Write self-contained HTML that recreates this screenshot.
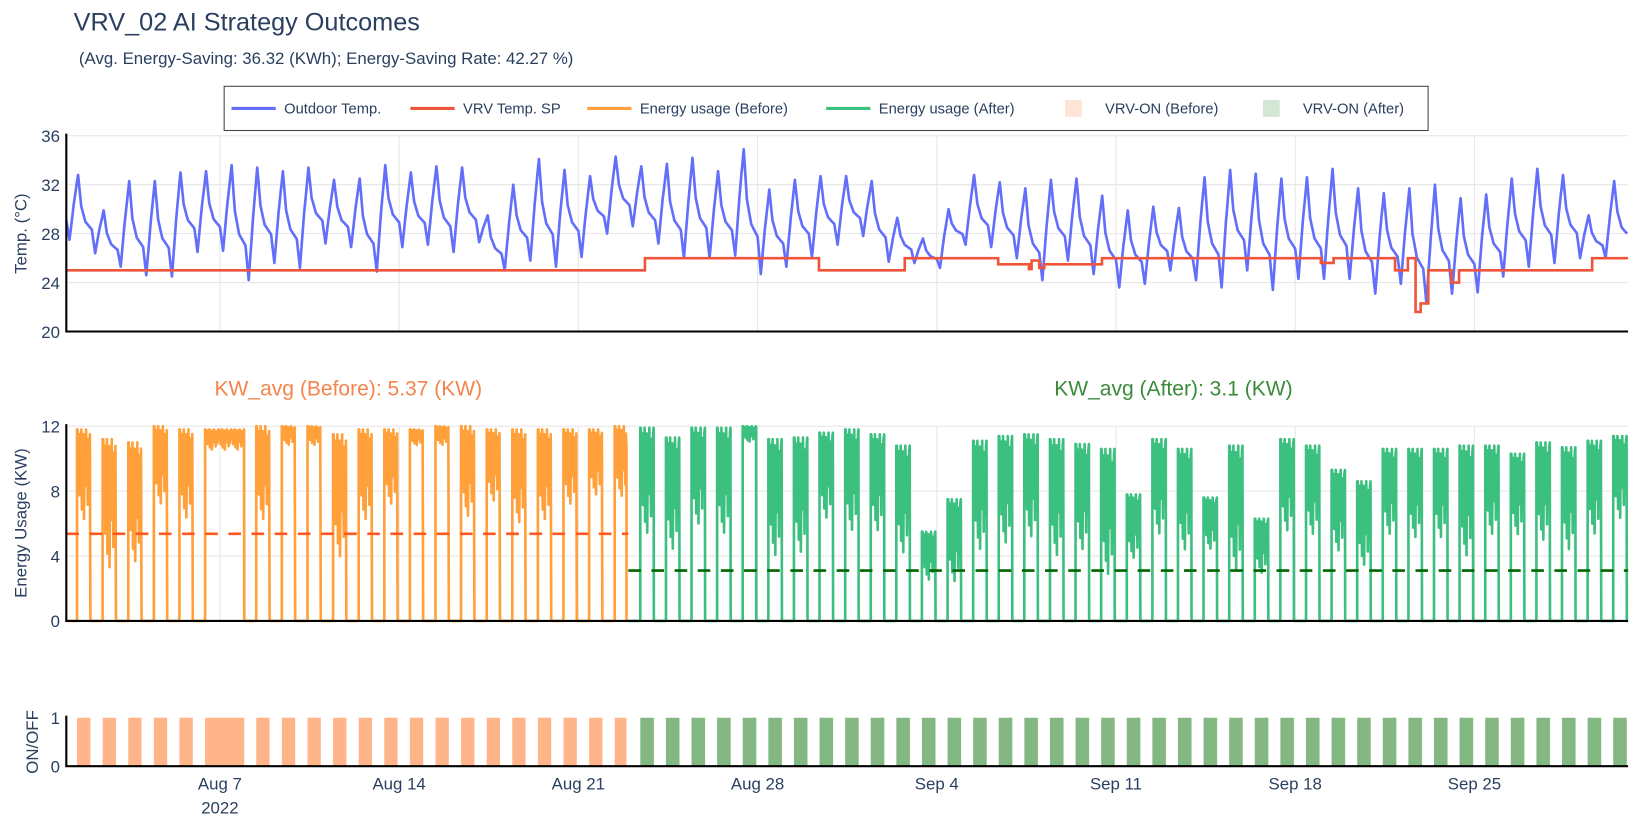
<!DOCTYPE html>
<html><head><meta charset="utf-8"><style>
body{margin:0;background:#fff;}
svg{display:block;font-family:"Liberation Sans",sans-serif;}
text{fill:#2a3f5f;}
</style></head><body>
<svg id="chart" width="1649" height="826" viewBox="0 0 1649 826">
<g transform="scale(1.0524)">
<text x="70" y="29" font-size="24">VRV_02 AI Strategy Outcomes</text>
<text x="75" y="61" font-size="16">(Avg. Energy-Saving: 36.32 (KWh); Energy-Saving Rate: 42.27 %)</text>
<g>
<rect x="213" y="82" width="1144" height="42" fill="#fff" stroke="#444" stroke-width="1"/>
<g><line x1="220" y1="103" x2="262" y2="103" stroke="#636efa" stroke-width="3"/><text x="270" y="108" font-size="14">Outdoor Temp.</text></g>
<g><line x1="390" y1="103" x2="432" y2="103" stroke="#ef553b" stroke-width="3"/><text x="440" y="108" font-size="14">VRV Temp. SP</text></g>
<g><line x1="558" y1="103" x2="600" y2="103" stroke="#ffa03a" stroke-width="3"/><text x="608" y="108" font-size="14">Energy usage (Before)</text></g>
<g><line x1="785" y1="103" x2="827" y2="103" stroke="#3cc07f" stroke-width="3"/><text x="835" y="108" font-size="14">Energy usage (After)</text></g>
<g><rect x="1012" y="95" width="16" height="16" fill="#ffb48a" opacity="0.35"/><text x="1050" y="108" font-size="14">VRV-ON (Before)</text></g>
<g><rect x="1200" y="95" width="16" height="16" fill="#84b883" opacity="0.35"/><text x="1238" y="108" font-size="14">VRV-ON (After)</text></g>
</g>
<text x="331" y="376" font-size="20" text-anchor="middle" style="fill:#f5844c">KW_avg (Before): 5.37 (KW)</text>
<text x="1115" y="376" font-size="20" text-anchor="middle" style="fill:#3a8a3a">KW_avg (After): 3.1 (KW)</text>
<g id="grid"></g>
<g id="marks"></g>
<g id="axes"></g>
<text transform="translate(25,222) rotate(-90)" font-size="16" text-anchor="middle">Temp. (°C)</text>
<text transform="translate(25,497) rotate(-90)" font-size="16" text-anchor="middle">Energy Usage (KW)</text>
<text transform="translate(36,705) rotate(-90)" font-size="16" text-anchor="middle">ON/OFF</text>
</g>
</svg>
<script>
// ---- data ----
const tickLabels = ["Aug 7","Aug 14","Aug 21","Aug 28","Sep 4","Sep 11","Sep 18","Sep 25"];
const tickDays = [6,13,20,27,34,41,48,55];
const tempTicks = [20,24,28,32,36];
const energyTicks = [0,4,8,12];
const tMax = [32.8,29.9,32.3,32.3,33.0,33.1,33.6,33.4,33.1,33.4,32.4,32.5,33.6,33.0,33.5,33.4,29.5,32.0,34.1,33.2,32.7,34.3,33.5,33.7,34.2,33.1,34.9,31.6,32.4,32.7,32.7,32.3,29.3,27.6,30.0,32.8,32.2,31.7,32.4,32.5,31.1,29.9,30.2,30.1,32.6,33.2,32.9,32.5,32.6,33.3,31.7,31.3,31.7,32.0,30.9,31.2,32.5,33.3,32.8,29.5,32.3];
const tMin = [27.5,26.4,25.3,24.6,24.5,26.5,26.6,24.2,25.6,25.2,27.2,26.9,24.9,26.9,27.1,26.5,27.3,25.0,25.8,25.3,26.1,28.0,28.6,27.2,26.0,26.0,26.2,24.7,25.3,26.1,27.1,27.8,25.7,25.6,25.2,27.1,26.9,26.0,24.2,25.8,24.7,23.6,23.9,25.0,24.2,23.6,25.0,23.4,24.3,24.3,24.3,23.1,23.9,22.3,23.1,23.2,24.5,25.3,25.6,26.0,26.0];
const spT = [0,22.6,29.4,32.75,36.4,37.6,37.7,38.0,38.2,40.45,49.0,49.5,51.9,52.4,52.7,52.9,53.2,54.1,54.4,59.6];
const spV = [25,26,25,26,25.5,25.1,25.8,25.2,25.5,26,25.6,26,25,26,21.6,22.3,25,24,25,26];
const ePeak = [11.8,11.2,11.0,12,11.8,11.8,11.8,12,12,12,11.5,11.8,11.8,11.8,12,12,11.8,11.8,11.8,11.8,11.8,12,
 11.9,11.3,11.9,11.9,12,11.2,11.3,11.6,11.8,11.5,10.8,5.5,7.5,11.1,11.4,11.5,11.2,10.9,10.6,7.8,
 11.2,10.6,7.6,10.8,6.3,11.2,10.8,9.3,8.6,10.6,10.6,10.6,10.8,10.8,10.3,11.0,10.7,11.1,11.4];
const eLow = [6,2.9,3.3,7,6.1,10.5,10.5,6,10.8,10.8,3.6,6,7,10.8,10.8,6.2,7.2,5.8,6,7,7.6,7.5,
 5.1,4.1,5.7,5.1,11,3.7,3.9,6.1,5.3,5.3,3.9,2.4,2.2,4.1,4.5,4.9,3.7,4.1,2.5,3.7,
 5.1,4.1,4.3,2.8,2.8,5.3,5.1,4.1,3.2,5.1,4.9,4.9,3.7,5.1,5.1,4.7,4.1,5.1,6.1];
const onStart = [0.42,1.42,2.42,3.42,4.42,5.42,7.42,8.42,9.42,10.42,11.42,12.42,13.42,14.42,15.42,16.42,17.42,18.42,19.42,20.42,21.42,
 22.42,23.42,24.42,25.42,26.42,27.42,28.42,29.42,30.42,31.42,32.42,33.42,34.42,35.42,36.42,37.42,38.42,39.42,40.42,41.42,42.42,43.42,44.42,45.42,46.42,47.42,48.42,49.42,50.42,51.42,52.42,53.42,54.42,55.42,56.42,57.42,58.42,59.42,60.42];
const onLen = [0.52,0.52,0.52,0.52,0.52,1.53,0.52,0.52,0.52,0.52,0.52,0.52,0.52,0.52,0.52,0.52,0.52,0.52,0.52,0.52,0.46,
 0.53,0.53,0.53,0.53,0.53,0.53,0.53,0.53,0.53,0.53,0.53,0.53,0.53,0.53,0.53,0.53,0.53,0.53,0.53,0.53,0.53,0.53,0.53,0.53,0.53,0.53,0.53,0.53,0.53,0.53,0.53,0.53,0.53,0.53,0.53,0.53,0.53,0.53,0.53,0.55];
const splitDay = 22;
const avgBefore = 5.37;
const avgAfter = 3.1;

// ---- axes ----
const X0=63, X1=1547, DAYS=61;
function xs(d){return X0+d*(X1-X0)/DAYS;}
function yT(v){return 315-(v-20)*(315-129)/16;}
function yE(v){return 590-v*(590-405)/12;}
function yO(v){return 728-v*46;}
const NS="http://www.w3.org/2000/svg";
function mk(tag,attrs,parent){const e=document.createElementNS(NS,tag);for(const k in attrs)e.setAttribute(k,attrs[k]);parent.appendChild(e);return e;}
const grid=document.getElementById('grid'), marks=document.getElementById('marks'), axes=document.getElementById('axes');

tickDays.forEach((d,i)=>{
  let g=mk('line',{x1:xs(d),x2:xs(d),y1:129,y2:315,stroke:'#e6e6e6','stroke-width':1},grid);
  
  
  g=mk('line',{x1:xs(d),x2:xs(d),y1:405,y2:590,stroke:'#e6e6e6','stroke-width':1},grid);
  
  
  const t=mk('text',{x:xs(d),y:750,'font-size':16,'text-anchor':'middle'},axes);
  t.textContent=tickLabels[i];
  
  
});
const yr=mk('text',{x:xs(6),y:773,'font-size':16,'text-anchor':'middle'},axes);
yr.textContent='2022';


tempTicks.forEach(v=>{
  if(v>20){const g=mk('line',{x1:X0,x2:X1,y1:yT(v),y2:yT(v),stroke:'#e6e6e6','stroke-width':1},grid);
  
  }
  const t=mk('text',{x:57,y:yT(v)+6,'font-size':16,'text-anchor':'end'},axes);
  t.textContent=v;
  
  
});
energyTicks.forEach(v=>{
  if(v>0){const g=mk('line',{x1:X0,x2:X1,y1:yE(v),y2:yE(v),stroke:'#e6e6e6','stroke-width':1},grid);
  
  }
  const t=mk('text',{x:57,y:yE(v)+6,'font-size':16,'text-anchor':'end'},axes);
  t.textContent=v;
  
  
});
[0,1].forEach(v=>{
  const t=mk('text',{x:57,y:yO(v)+6,'font-size':16,'text-anchor':'end'},axes);
  t.textContent=v;
  
  
});
[[129,315],[405,590],[682,728]].forEach(([a,b],i)=>{
  let l=mk('path',{d:`M${X0},${a-2}V${b}H${X1}`,fill:'none',stroke:'#000','stroke-width':2},axes);
  
  
});

onStart.forEach((s,i)=>{
  const before = s<splitDay;
  const r=mk('rect',{x:xs(s),y:yO(1),width:xs(s+onLen[i])-xs(s),height:yO(0)-yO(1),fill:before?'#ffb48a':'#84b883'},marks);
  
  
});

function tempAt(d,h){
  const mx=tMax[d], mn=tMin[d], nmn=tMin[Math.min(d+1,tMin.length-1)], pmx=d>0?tMax[d-1]:mx;
  const k=[[0,mn+0.3*(pmx-mn)],[3,mn],[7,mn+0.55*(mx-mn)],[11,mx],[14,nmn+0.6*(mx-nmn)],[18,nmn+0.4*(mx-nmn)],[24,nmn+0.3*(mx-nmn)]];
  for(let i=0;i<k.length-1;i++){if(h>=k[i][0]&&h<=k[i+1][0]){const f=(h-k[i][0])/(k[i+1][0]-k[i][0]);return k[i][1]+f*(k[i+1][1]-k[i][1]);}}
  return mn;
}
let tp='';
for(let d=0;d<tMax.length;d++){for(let h=0;h<24;h++){const v=tempAt(d,h);tp+=(tp?'L':'M')+xs(d+h/24).toFixed(1)+','+yT(v).toFixed(1);}}
const tl=mk('path',{d:tp,fill:'none',stroke:'#636efa','stroke-width':2.5,'stroke-linejoin':'round'},marks);



let sp='';
for(let i=0;i<spT.length;i++){const x1=xs(spT[i]), x2=xs(i+1<spT.length?spT[i+1]:DAYS);sp+=(i?'L':'M')+x1.toFixed(1)+','+yT(spV[i]).toFixed(1)+'L'+x2.toFixed(1)+','+yT(spV[i]).toFixed(1);}
const sl=mk('path',{d:sp,fill:'none',stroke:'#ef553b','stroke-width':2.5},marks);



const PAT=[1,0.9,0.55,0.95,0.3,0.85,0.7,1,0.15,0.8,0.5,0.95,0.05,0.75,0.9,0.4,1,0.6,0.85,0.2,0.9,0.7,0.35,0.95];
function energyPath(before){
  const startD = before?0:splitDay-0.05, endD = before?splitDay-0.05:DAYS;
  let p='M'+xs(startD).toFixed(1)+','+yE(0);
  onStart.forEach((s,i)=>{
    if((s<splitDay)!==before) return;
    const d=Math.floor(s), pk=ePeak[d], lo=eLow[d], e=s+onLen[i];
    p+='L'+xs(s).toFixed(1)+','+yE(0)+'L'+xs(s).toFixed(1)+','+yE(pk).toFixed(1);
    let k=0;
    for(let t=s+1/48;t<e;t+=1/48){const v=lo+PAT[k%PAT.length]*(pk-lo);p+='L'+xs(t).toFixed(1)+','+yE(v).toFixed(1);k++;}
    p+='L'+xs(e).toFixed(1)+','+yE(0);
  });
  p+='L'+xs(endD).toFixed(1)+','+yE(0);
  return p;
}
const eb=mk('path',{d:energyPath(true),fill:'none',stroke:'#ffa03a','stroke-width':2.5,'stroke-linejoin':'round'},marks);


const ea=mk('path',{d:energyPath(false),fill:'none',stroke:'#3cc07f','stroke-width':2.5,'stroke-linejoin':'round'},marks);


const ab=mk('line',{x1:xs(0),x2:xs(splitDay-0.05),y1:yE(avgBefore),y2:yE(avgBefore),stroke:'#ff5722','stroke-width':2.5,'stroke-dasharray':'12,10'},marks);


const aa=mk('line',{x1:xs(splitDay-0.05),x2:xs(DAYS),y1:yE(avgAfter),y2:yE(avgAfter),stroke:'#006400','stroke-width':2.5,'stroke-dasharray':'12,10'},marks);


</script>
</body></html>
